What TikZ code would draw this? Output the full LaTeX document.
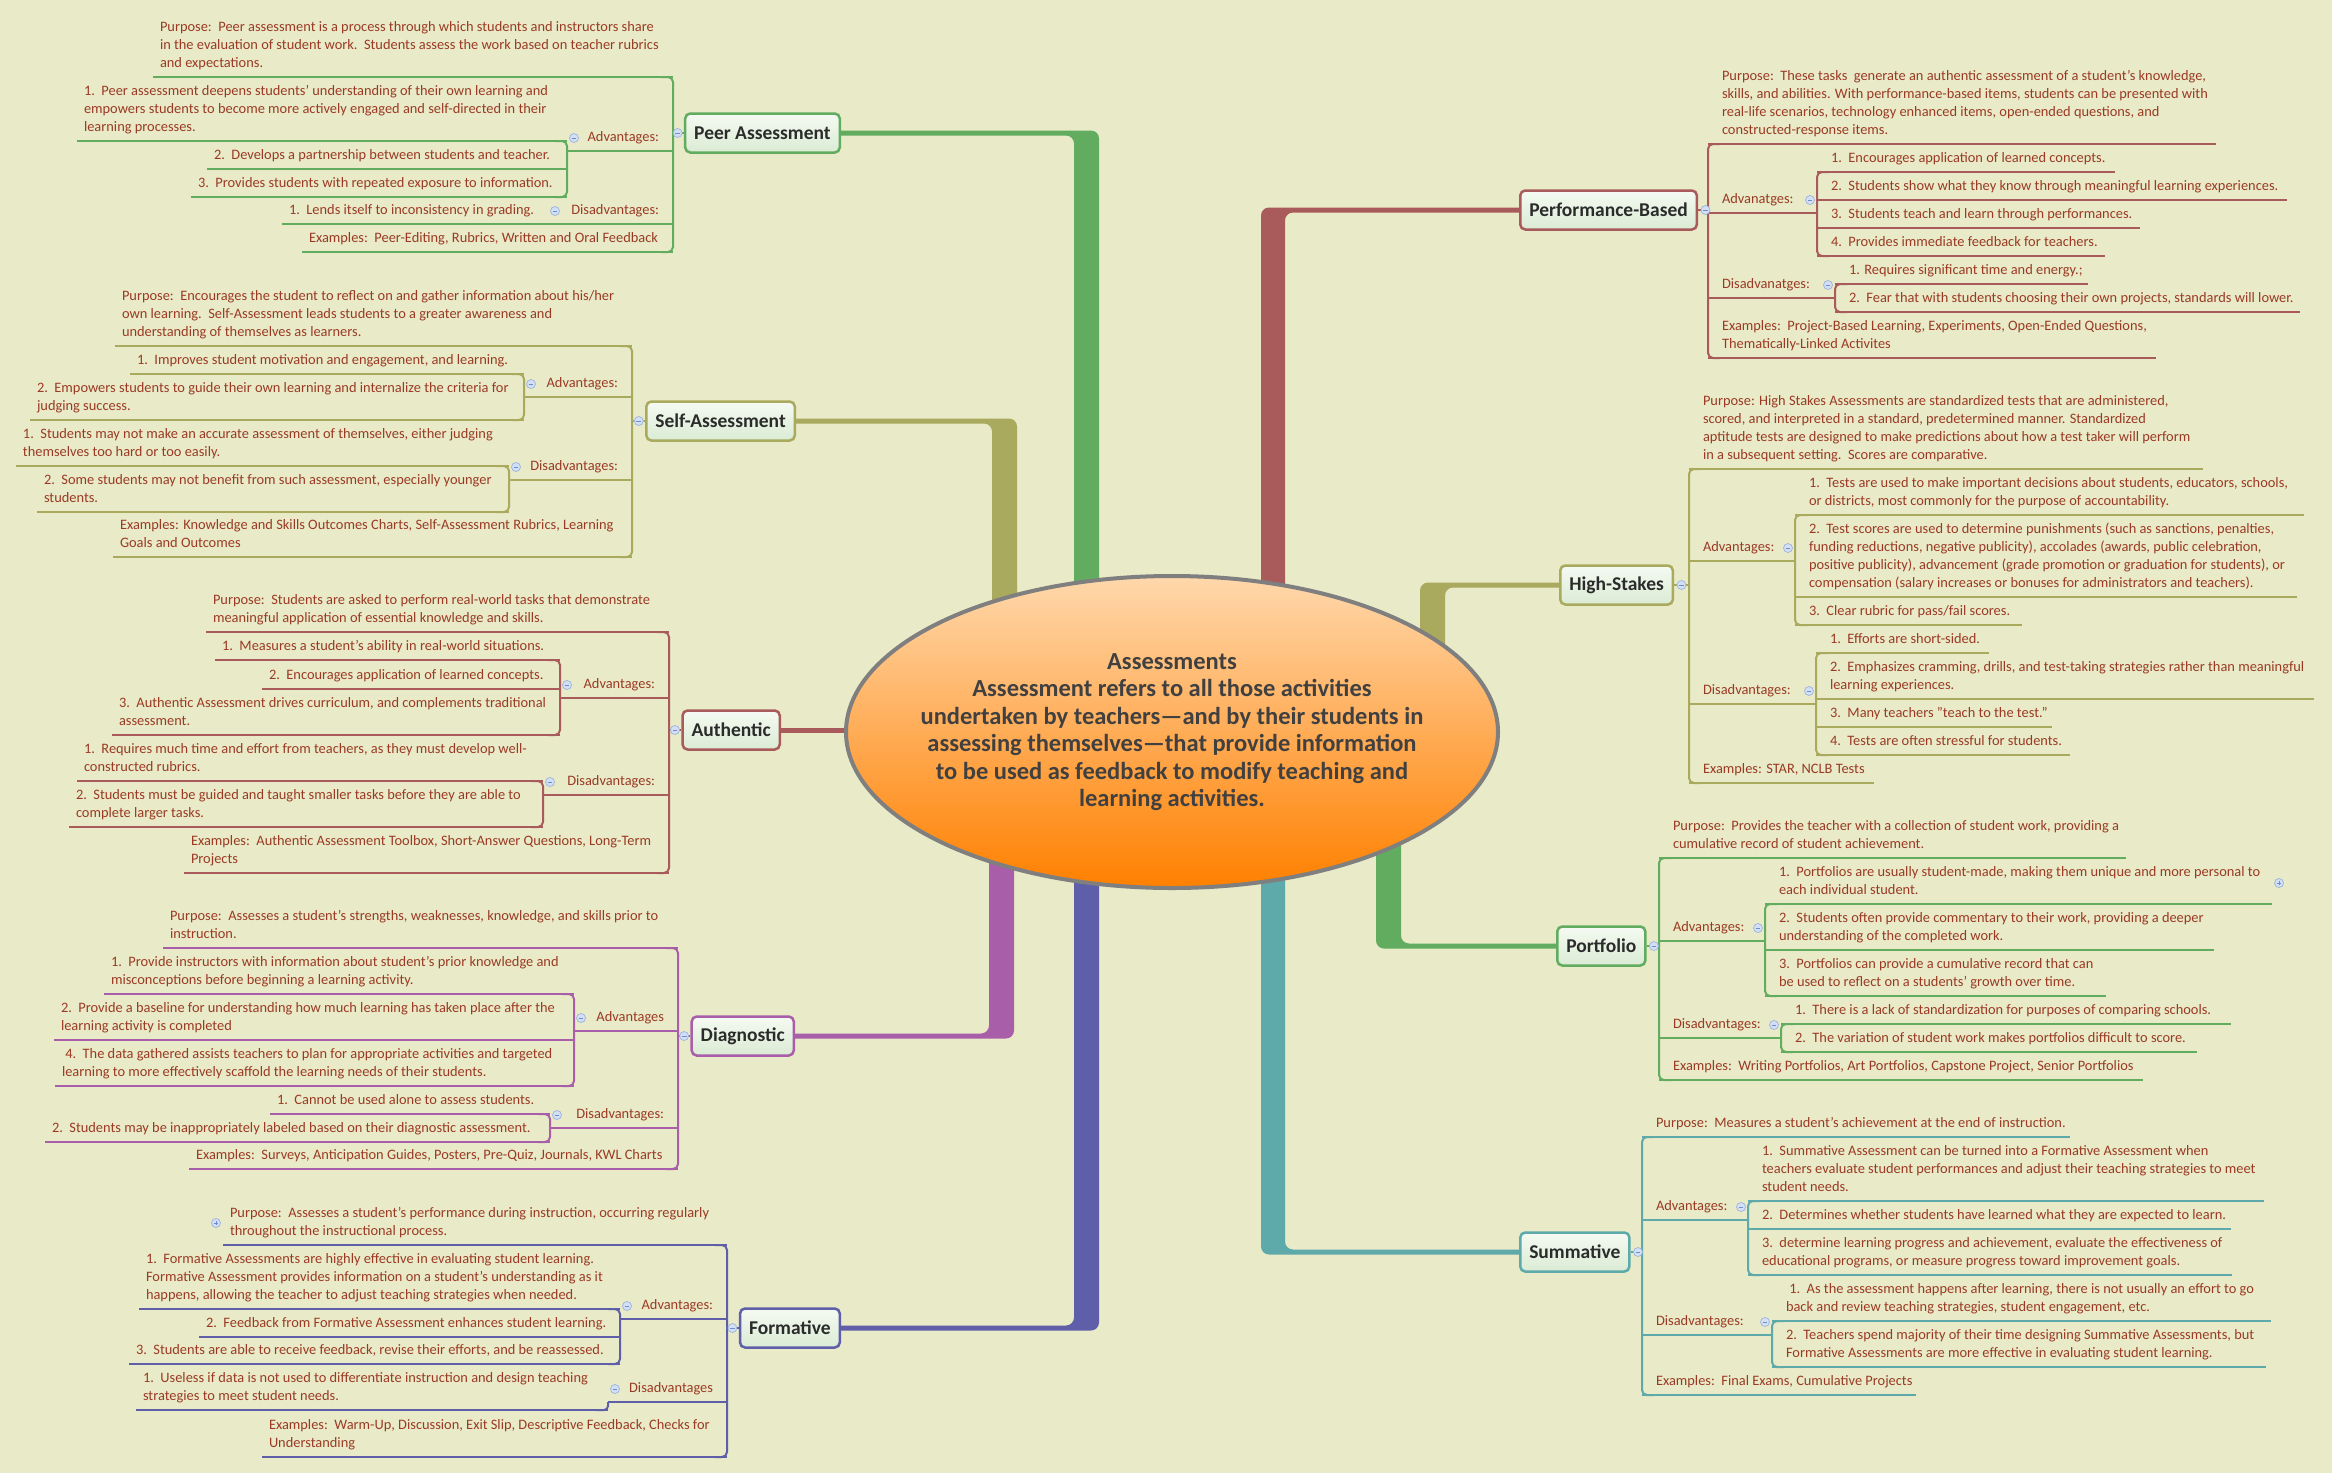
\documentclass[tikz,border=0pt]{standalone}
\usepackage{fontspec}
\setmainfont{Carlito}
\usetikzlibrary{positioning,shapes.geometric,backgrounds}
\definecolor{fondo}{HTML}{E8EAC8}
\definecolor{texto}{HTML}{9B3A24}
\definecolor{verde}{HTML}{62AC60}
\definecolor{oliva}{HTML}{A9AA5D}
\definecolor{granate}{HTML}{A95B5B}
\definecolor{morado}{HTML}{A85EA8}
\definecolor{anil}{HTML}{5F5FA9}
\definecolor{turquesa}{HTML}{5EA9A9}
\definecolor{carbon}{HTML}{2B2B2B}
\definecolor{pizarra}{HTML}{404040}
\definecolor{gris}{HTML}{7F7F7F}
\definecolor{melocoton}{HTML}{FFD8AC}
\definecolor{naranja}{HTML}{FF8000}
\definecolor{cajaalta}{HTML}{F5FAF2}
\definecolor{cajabaja}{HTML}{DAEBD4}
\definecolor{iconof}{HTML}{D3DFF5}
\definecolor{iconob}{HTML}{9DB3DE}
\definecolor{iconom}{HTML}{6F8CCB}
\colorlet{br}{verde}

\newcommand\leafL[5]{%
  \pgfmathsetmacro\lfw{#3-#2-14}%
  \node[leaf] (#1) at (#2,#4) {\makebox[\lfw pt][l]{\begin{tabular}[b]{@{}l@{}}#5\end{tabular}}};
  \draw[uline] (#1.south west) -- (#1.south east);}
\newcommand\leafR[5]{%
  \pgfmathsetmacro\lfw{#3-#2-14}%
  \node[leaf] (#1) at (#2,#4) {\makebox[\lfw pt][l]{\hspace*{7pt}\begin{tabular}[b]{@{}l@{}}#5\end{tabular}}};
  \draw[uline] (#1.south west) -- (#1.south east);}
\newcommand\labL[5]{%
  \pgfmathsetmacro\lfw{#3-#2-14}%
  \node[leaf] (#1) at (#2,#4) {\makebox[\lfw pt][r]{\begin{tabular}[b]{@{}r@{}}#5\end{tabular}\hspace*{7pt}}};
  \draw[uline] (#1.south west) -- (#1.south east);
  \node[cerrar] (#1-i) at ([xshift=7pt,yshift=13pt]#1.south west) {};}
\newcommand\labR[5]{%
  \pgfmathsetmacro\lfw{#3-#2-14}%
  \node[leaf] (#1) at (#2,#4) {\makebox[\lfw pt][l]{\hspace*{7pt}\begin{tabular}[b]{@{}l@{}}#5\end{tabular}}};
  \draw[uline] (#1.south west) -- (#1.south east);
  \node[cerrar] (#1-i) at ([xshift=-7pt,yshift=13pt]#1.south east) {};}
\newcommand\brL[2]{\draw[uline,rounded corners=5pt] ([xshift=-12pt]#1.south east) -- (#1.south east) -- (#2.south east) -- ([xshift=-12pt]#2.south east);}
\newcommand\brR[2]{\draw[uline,rounded corners=5pt] ([xshift=12pt]#1.south west) -- (#1.south west) -- (#2.south west) -- ([xshift=12pt]#2.south west);}

\begin{document}
\begin{tikzpicture}[x=1pt,y=-1pt,
    leaf/.style={anchor=south west,inner xsep=7pt,inner ysep=4pt,outer sep=0pt,text=texto,font=\fontsize{14.4}{18}\selectfont},
    uline/.style={draw=br,line width=2pt},
    topic/.style={draw=#1,line width=2.5pt,rounded corners=5pt,top color=cajaalta,bottom color=cajabaja,
      minimum height=39pt,inner xsep=9pt,text=carbon,font=\fontsize{19.5}{22}\selectfont\bfseries},
    cerrar/.style={circle,draw=iconob,fill=iconof,line width=0.7pt,minimum size=9pt,inner sep=0pt,
      path picture={\draw[iconom,line width=0.9pt] ([xshift=-2.4pt]path picture bounding box.center) -- ([xshift=2.4pt]path picture bounding box.center);}},
    abrir/.style={circle,draw=iconob,fill=iconof,line width=0.7pt,minimum size=9pt,inner sep=0pt,
      path picture={\draw[iconom,line width=0.9pt] ([xshift=-2.4pt]path picture bounding box.center) -- ([xshift=2.4pt]path picture bounding box.center)
        ([yshift=-2.4pt]path picture bounding box.center) -- ([yshift=2.4pt]path picture bounding box.center);}}]
\useasboundingbox (0,0) rectangle (2332,1473);

\node[ellipse,draw=gris,line width=4pt,minimum width=652pt,minimum height=312pt,inner sep=0pt,
  top color=melocoton,bottom color=naranja] (ctr) at (1172,732) {};
\node[align=center,text=pizarra,font=\fontsize{24.5}{27.5}\selectfont\bfseries] (ctr-t) at (ctr.center)
  {Assessments\\Assessment refers to all those activities\\undertaken by teachers—and by their students in\\assessing themselves—that provide information\\to be used as feedback to modify teaching and\\learning activities.};

% Peer Assessment
\colorlet{br}{verde}
\leafL{pp}{153}{673}{77}{Purpose:\ \ Peer assessment is a process through which students and instructors share\\in the evaluation of student work.\ \ Students assess the work based on teacher rubrics\\and expectations.}
\labL{pv}{567}{673}{151}{Advantages:}
\leafL{pv1}{77}{567}{141}{1.\ \ Peer assessment deepens students’ understanding of their own learning and\\empowers students to become more actively engaged and self-directed in their\\learning processes.}
\leafL{pv2}{207}{567}{169}{2.\ \ Develops a partnership between students and teacher.}
\leafL{pv3}{191}{567}{197}{3.\ \ Provides students with repeated exposure to information.}
\labL{pd}{548}{673}{224}{Disadvantages:}
\leafL{pd1}{282}{548}{224}{1.\ \ Lends itself to inconsistency in grading.}
\leafL{pe}{302}{673}{252}{Examples:\ \ Peer-Editing, Rubrics, Written and Oral Feedback}
\brL{pp}{pe}
\brL{pv1}{pv3}
\node[topic=verde,anchor=east] (pa) at (841,133) {Peer Assessment};
\draw[uline] (pp.south east |- pa.west) -- (pa.west);
\node[cerrar,left=1.5pt of pa] (pa-i) {};

% Self-Assessment
\colorlet{br}{oliva}
\leafL{sp}{115}{632}{346}{Purpose:\ \ Encourages the student to reflect on and gather information about his/her\\own learning.\ \ Self-Assessment leads students to a greater awareness and\\understanding of themselves as learners.}
\labL{sv}{524}{632}{397}{Advantages:}
\leafL{sv1}{130}{524}{374}{1.\ \ Improves student motivation and engagement, and learning.}
\leafL{sv2}{30}{524}{420}{2.\ \ Empowers students to guide their own learning and internalize the criteria for\\judging success.}
\labL{sd}{509}{632}{480}{Disadvantages:}
\leafL{sd1}{16}{509}{466}{1.\ \ Students may not make an accurate assessment of themselves, either judging\\themselves too hard or too easily.}
\leafL{sd2}{37}{509}{512}{2.\ \ Some students may not benefit from such assessment, especially younger\\students.}
\leafL{se}{113}{632}{557}{Examples: Knowledge and Skills Outcomes Charts, Self-Assessment Rubrics, Learning\\Goals and Outcomes}
\brL{sp}{se}
\brL{sv1}{sv2}
\brL{sd1}{sd2}
\node[topic=oliva,anchor=east] (sa) at (796,421) {Self-Assessment};
\draw[uline] (sp.south east |- sa.west) -- (sa.west);
\node[cerrar,left=1.5pt of sa] (sa-i) {};

% Authentic
\colorlet{br}{granate}
\leafL{ap}{206}{669}{632}{Purpose:\ \ Students are asked to perform real-world tasks that demonstrate\\meaningful application of essential knowledge and skills.}
\labL{av}{560}{669}{698}{Advantages:}
\leafL{av1}{215}{560}{660}{1.\ \ Measures a student's ability in real-world situations.}
\leafL{av2}{262}{560}{689}{2.\ \ Encourages application of learned concepts.}
\leafL{av3}{112}{560}{735}{3.\ \ Authentic Assessment drives curriculum, and complements traditional\\assessment.}
\labL{ad}{543}{669}{795}{Disadvantages:}
\leafL{ad1}{77}{543}{781}{1.\ \ Requires much time and effort from teachers, as they must develop well-\\constructed rubrics.}
\leafL{ad2}{69}{543}{827}{2.\ \ Students must be guided and taught smaller tasks before they are able to\\complete larger tasks.}
\leafL{ae}{184}{669}{873}{Examples:\ \ Authentic Assessment Toolbox, Short-Answer Questions, Long-Term\\Projects}
\brL{ap}{ae}
\brL{av1}{av3}
\brL{ad1}{ad2}
\node[topic=granate,anchor=east] (au) at (781,730) {Authentic};
\draw[uline] (ap.south east |- au.west) -- (au.west);
\node[cerrar,left=1.5pt of au] (au-i) {};

% Diagnostic
\colorlet{br}{morado}
\leafL{dp}{163}{678}{948}{Purpose:\ \ Assesses a student's strengths, weaknesses, knowledge, and skills prior to\\instruction.}
\labL{dv}{574}{678}{1031}{Advantages}
\leafL{dv1}{104}{574}{994}{1.\ \ Provide instructors with information about student's prior knowledge and\\misconceptions before beginning a learning activity.}
\leafL{dv2}{54}{574}{1040}{2.\ \ Provide a baseline for understanding how much learning has taken place after the\\learning activity is completed}
\leafL{dv3}{55}{574}{1086}{\ 4.\ \ The data gathered assists teachers to plan for appropriate activities and targeted\\learning to more effectively scaffold the learning needs of their students.}
\labL{dd}{550}{678}{1128}{Disadvantages:}
\leafL{dd1}{270}{550}{1114}{1.\ \ Cannot be used alone to assess students.}
\leafL{dd2}{45}{550}{1142}{2.\ \ Students may be inappropriately labeled based on their diagnostic assessment.}
\leafL{de}{189}{678}{1169}{Examples:\ \ Surveys, Anticipation Guides, Posters, Pre-Quiz, Journals, KWL Charts}
\brL{dp}{de}
\brL{dv1}{dv3}
\brL{dd1}{dd2}
\node[topic=morado,anchor=east] (dg) at (795,1036) {Diagnostic};
\draw[uline] (dp.south east |- dg.west) -- (dg.west);
\node[cerrar,left=1.5pt of dg] (dg-i) {};

% Formative
\colorlet{br}{anil}
\leafL{fp}{223}{727}{1245}{Purpose:\ \ Assesses a student's performance during instruction, occurring regularly\\throughout the instructional process.}
\node[abrir] (fp-i) at ([xshift=-7pt,yshift=22pt]fp.south west) {};
\labL{fv}{620}{727}{1319}{Advantages:}
\leafL{fv1}{139}{620}{1309}{1.\ \ Formative Assessments are highly effective in evaluating student learning.\\Formative Assessment provides information on a student's understanding as it\\happens, allowing the teacher to adjust teaching strategies when needed.}
\leafL{fv2}{199}{620}{1337}{2.\ \ Feedback from Formative Assessment enhances student learning.}
\leafL{fv3}{129}{620}{1364}{3.\ \ Students are able to receive feedback, revise their efforts, and be reassessed.}
\labL{fd}{608}{727}{1402}{Disadvantages}
\leafL{fd1}{136}{608}{1410}{1.\ \ Useless if data is not used to differentiate instruction and design teaching\\strategies to meet student needs.}
\leafL{fe}{262}{727}{1457}{Examples:\ \ Warm-Up, Discussion, Exit Slip, Descriptive Feedback, Checks for\\Understanding}
\brL{fp}{fe}
\brL{fv1}{fv3}
\draw[uline,rounded corners=4pt] ([xshift=-12pt]fd1.south east) -- (fd1.south east) -- (fd.south west);
\node[topic=anil,anchor=east] (fm) at (841,1328) {Formative};
\draw[uline] (fp.south east |- fm.west) -- (fm.west);
\node[cerrar,left=1.5pt of fm] (fm-i) {};

% Performance-Based
\colorlet{br}{granate}
\leafR{bp}{1708}{2216}{144}{Purpose:\ \ These tasks\ \ generate an authentic assessment of a student’s knowledge,\\skills, and abilities. With performance-based items, students can be presented with\\real-life scenarios, technology enhanced items, open-ended questions, and\\constructed-response items.}
\labR{bv}{1708}{1817}{213}{Advanatges:}
\leafR{bv1}{1817}{2115}{172}{1.\ \ Encourages application of learned concepts.}
\leafR{bv2}{1817}{2287}{200}{2.\ \ Students show what they know through meaningful learning experiences.}
\leafR{bv3}{1817}{2140}{228}{3.\ \ Students teach and learn through performances.}
\leafR{bv4}{1817}{2105}{256}{4.\ \ Provides immediate feedback for teachers.}
\labR{bd}{1708}{1835}{298}{Disadvanatges:}
\leafR{bd1}{1835}{2088}{284}{1. Requires significant time and energy.;}
\leafR{bd2}{1835}{2300}{312}{2.\ \ Fear that with students choosing their own projects, standards will lower.}
\leafR{be}{1708}{2156}{358}{Examples:\ \ Project-Based Learning, Experiments, Open-Ended Questions,\\Thematically-Linked Activites}
\brR{bp}{be}
\brR{bv1}{bv4}
\brR{bd1}{bd2}
\node[topic=granate,anchor=west] (pb) at (1519,210) {Performance-Based};
\draw[uline] (pb.east) -- (bp.south west |- pb.east);
\node[cerrar,right=2.5pt of pb] (pb-i) {};

% High-Stakes
\colorlet{br}{oliva}
\leafR{hp}{1689}{2203}{469}{Purpose: High Stakes Assessments are standardized tests that are administered,\\scored, and interpreted in a standard, predetermined manner. Standardized\\aptitude tests are designed to make predictions about how a test taker will perform\\in a subsequent setting.\ \ Scores are comparative.}
\labR{hv}{1689}{1795}{561}{Advantages:}
\leafR{hv1}{1795}{2304}{515}{1.\ \ Tests are used to make important decisions about students, educators, schools,\\or districts, most commonly for the purpose of accountability.}
\leafR{hv2}{1795}{2297}{597}{2.\ \ Test scores are used to determine punishments (such as sanctions, penalties,\\funding reductions, negative publicity), accolades (awards, public celebration,\\positive publicity), advancement (grade promotion or graduation for students), or\\compensation (salary increases or bonuses for administrators and teachers).}
\leafR{hv3}{1795}{2022}{625}{3.\ \ Clear rubric for pass/fail scores.}
\labR{hd}{1689}{1816}{704}{Disadvantages:}
\leafR{hd1}{1816}{1989}{653}{1.\ \ Efforts are short-sided.}
\leafR{hd2}{1816}{2314}{699}{2.\ \ Emphasizes cramming, drills, and test-taking strategies rather than meaningful\\learning experiences.}
\leafR{hd3}{1816}{2052}{727}{3.\ \ Many teachers "teach to the test."}
\leafR{hd4}{1816}{2070}{755}{4.\ \ Tests are often stressful for students.}
\leafR{he}{1689}{1874}{783}{Examples: STAR, NCLB Tests}
\brR{hp}{he}
\brR{hv1}{hv3}
\brR{hd1}{hd4}
\node[topic=oliva,anchor=west] (hs) at (1559,585) {High-Stakes};
\draw[uline] (hs.east) -- (hp.south west |- hs.east);
\node[cerrar,right=2.5pt of hs] (hs-i) {};

% Portfolio
\colorlet{br}{verde}
\leafR{op}{1659}{2126}{858}{Purpose:\ \ Provides the teacher with a collection of student work, providing a\\cumulative record of student achievement.}
\labR{ov}{1659}{1765}{941}{Advantages:}
\leafR{ov1}{1765}{2272}{904}{1.\ \ Portfolios are usually student-made, making them unique and more personal to\\each individual student.}
\node[abrir] (ov1-i) at ([xshift=7pt,yshift=21pt]ov1.south east) {};
\leafR{ov2}{1765}{2214}{950}{2.\ \ Students often provide commentary to their work, providing a deeper\\understanding of the completed work.}
\leafR{ov3}{1765}{2106}{996}{3.\ \ Portfolios can provide a cumulative record that can\\be used to reflect on a students’ growth over time.}
\labR{od}{1659}{1781}{1038}{Disadvantages:}
\leafR{od1}{1781}{2231}{1024}{1.\ \ There is a lack of standardization for purposes of comparing schools.}
\leafR{od2}{1781}{2197}{1052}{2.\ \ The variation of student work makes portfolios difficult to score.}
\leafR{oe}{1659}{2143}{1080}{Examples:\ \ Writing Portfolios, Art Portfolios, Capstone Project, Senior Portfolios}
\brR{op}{oe}
\brR{ov1}{ov3}
\brR{od1}{od2}
\node[topic=verde,anchor=west] (pf) at (1556,946) {Portfolio};
\draw[uline] (pf.east) -- (op.south west |- pf.east);
\node[cerrar,right=2.5pt of pf] (pf-i) {};

% Summative
\colorlet{br}{turquesa}
\leafR{mp}{1642}{2070}{1137}{Purpose:\ \ Measures a student’s achievement at the end of instruction.}
\labR{mv}{1642}{1748}{1220}{Advantages:}
\leafR{mv1}{1748}{2264}{1201}{1.\ \ Summative Assessment can be turned into a Formative Assessment when\\teachers evaluate student performances and adjust their teaching strategies to meet\\student needs.}
\leafR{mv2}{1748}{2231}{1229}{2.\ \ Determines whether students have learned what they are expected to learn.}
\leafR{mv3}{1748}{2232}{1275}{3.\ \ determine learning progress and achievement, evaluate the effectiveness of\\educational programs, or measure progress toward improvement goals.}
\labR{md}{1642}{1772}{1335}{Disadvantages:}
\leafR{md1}{1772}{2271}{1321}{\ 1.\ \ As the assessment happens after learning, there is not usually an effort to go\\back and review teaching strategies, student engagement, etc.}
\leafR{md2}{1772}{2266}{1367}{2.\ \ Teachers spend majority of their time designing Summative Assessments, but\\Formative Assessments are more effective in evaluating student learning.}
\leafR{me}{1642}{1916}{1395}{Examples:\ \ Final Exams, Cumulative Projects}
\brR{mp}{me}
\brR{mv1}{mv3}
\brR{md1}{md2}
\node[topic=turquesa,anchor=west] (sm) at (1519,1252) {Summative};
\draw[uline] (sm.east) -- (mp.south west |- sm.east);
\node[cerrar,right=2.5pt of sm] (sm-i) {};

\begin{scope}[on background layer]
  \fill[fondo] (0,0) rectangle (2332,1473);
  \fill[verde,rounded corners=8pt] ([xshift=-10pt,yshift=2.5pt]pa.east) -- (1099,130.5) -- (1099,732) -- (1074,732) -- (1074,135.5) -- ([xshift=-10pt,yshift=-2.5pt]pa.east) -- cycle;
  \fill[oliva,rounded corners=8pt] ([xshift=-10pt,yshift=2.5pt]sa.east) -- (1017,418.5) -- (1017,732) -- (992,732) -- (992,423.5) -- ([xshift=-10pt,yshift=-2.5pt]sa.east) -- cycle;
  \fill[morado,rounded corners=8pt] ([xshift=-10pt,yshift=-2.5pt]dg.east) -- (1014,1038.5) -- (1014,732) -- (989,732) -- (989,1033.5) -- ([xshift=-10pt,yshift=2.5pt]dg.east) -- cycle;
  \fill[anil,rounded corners=8pt] ([xshift=-10pt,yshift=-2.5pt]fm.east) -- (1099,1330.5) -- (1099,732) -- (1074,732) -- (1074,1325.5) -- ([xshift=-10pt,yshift=2.5pt]fm.east) -- cycle;
  \fill[granate,rounded corners=8pt] ([xshift=10pt,yshift=2.5pt]pb.west) -- (1261,207.5) -- (1261,732) -- (1285,732) -- (1285,212.5) -- ([xshift=10pt,yshift=-2.5pt]pb.west) -- cycle;
  \fill[oliva,rounded corners=8pt] ([xshift=10pt,yshift=2.5pt]hs.west) -- (1420,582.5) -- (1420,732) -- (1445,732) -- (1445,587.5) -- ([xshift=10pt,yshift=-2.5pt]hs.west) -- cycle;
  \fill[verde,rounded corners=8pt] ([xshift=10pt,yshift=-2.5pt]pf.west) -- (1376,948.5) -- (1376,732) -- (1401,732) -- (1401,943.5) -- ([xshift=10pt,yshift=2.5pt]pf.west) -- cycle;
  \fill[turquesa,rounded corners=8pt] ([xshift=10pt,yshift=-2.5pt]sm.west) -- (1261,1254.5) -- (1261,732) -- (1285,732) -- (1285,1249.5) -- ([xshift=10pt,yshift=2.5pt]sm.west) -- cycle;
  \draw[granate,line width=5pt] (au.east) -- (au.east -| ctr.center);
\end{scope}
\end{tikzpicture}
\end{document}
